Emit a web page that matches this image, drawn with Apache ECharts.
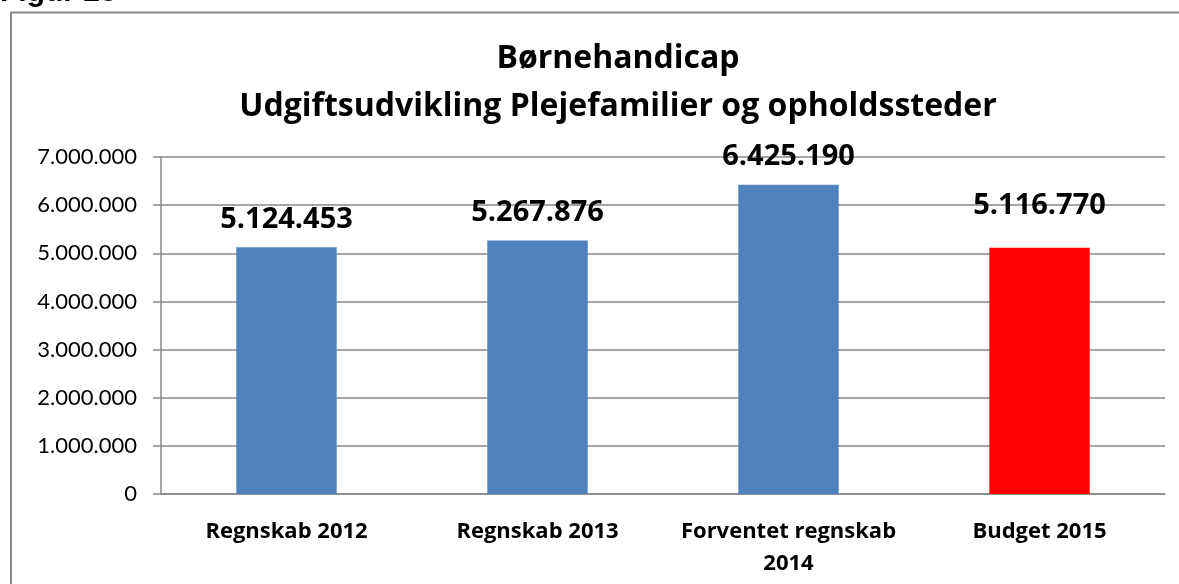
<!DOCTYPE html>
<html><head><meta charset="utf-8">
<script src="https://cdn.jsdelivr.net/npm/echarts@6/dist/echarts.min.js"></script>
<style>html,body{margin:0;padding:0;background:#fff}#c{width:1179px;height:584px}</style>
</head><body><div id="c"></div>
<script>
var categories = ['Regnskab 2012', 'Regnskab 2013', 'Forventet regnskab\n2014', 'Budget 2015'];
var values = [5124453, 5267876, 6425190, 5116770];
var barColors = ['#4F81BD', '#4F81BD', '#4F81BD', '#FF0000'];
var yTicks = [0, 1000000, 2000000, 3000000, 4000000, 5000000, 6000000, 7000000];
var labelOffsets = [0, 0, 0, -14];

function fmt(v) { return String(v).replace(/\B(?=(\d{3})+(?!\d))/g, '.'); }
var F = '"Open Sans", Lato, sans-serif';
var FY = 'Lato, "Open Sans", sans-serif';
var chart = echarts.init(document.getElementById('c'));
chart.setOption({
  animation: false,
  graphic: [
    { type: 'rect', shape: { x: 11, y: 12.5, width: 1300, height: 700 }, style: { fill: 'none', stroke: '#888', lineWidth: 2 } },
    { type: 'text', left: 0, top: -22, style: { text: 'Figur 28', font: 'bold 30px "Liberation Sans", Arial', fill: '#000' } }
  ],
  title: {
    text: 'Børnehandicap\nUdgiftsudvikling Plejefamilier og opholdssteder',
    left: 613, top: 30, textAlign: 'center',
    textStyle: { fontFamily: F, fontWeight: 'bold', fontSize: 32, lineHeight: 48, color: '#000' }
  },
  grid: { left: 161, right: 14, top: 157, bottom: 90 },
  xAxis: {
    type: 'category', data: categories,
    axisLine: { lineStyle: { color: '#888', width: 1.5 } },
    axisTick: { length: 8, lineStyle: { color: '#888', width: 1.5 } },
    axisLabel: { interval: 0, fontFamily: F, fontWeight: 'bold', fontSize: 22, color: '#000', margin: 22, lineHeight: 32 }
  },
  yAxis: {
    type: 'value', min: 0, max: 7000000, interval: 1000000,
    axisLine: { show: true, lineStyle: { color: '#888', width: 1.5 } },
    axisTick: { show: true, length: 8, lineStyle: { color: '#888', width: 1.5 } },
    splitLine: { lineStyle: { color: '#888', width: 1.5 } },
    axisLabel: { fontFamily: FY, fontSize: 22, color: '#000', margin: 24,
      formatter: function (v) { return yTicks.indexOf(v) >= 0 ? fmt(v) : ''; } }
  },
  series: [{
    type: 'bar', barWidth: '40%',
    data: values.map(function (v, i) {
      return { value: v, itemStyle: { color: barColors[i] },
        label: { offset: [0, labelOffsets[i]] } };
    }),
    label: { show: true, position: 'top', distance: 13, fontFamily: F, fontWeight: 'bold', fontSize: 29, color: '#000',
      formatter: function (p) { return fmt(p.value); } }
  }]
});
</script></body></html>
